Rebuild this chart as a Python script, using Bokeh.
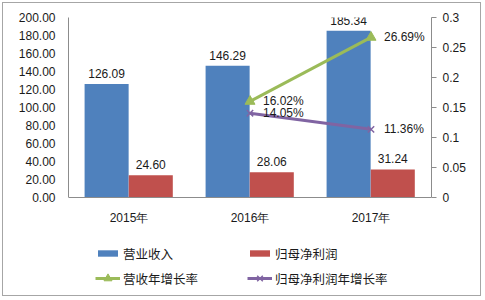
from bokeh.plotting import figure
from bokeh.models import (ColumnDataSource, FactorRange, Range1d, LinearAxis, FixedTicker,
                          NumeralTickFormatter, CustomJSTickFormatter, LabelSet, Legend,
                          LegendItem)
from bokeh.core.properties import value
from bokeh.transform import dodge
from bokeh.embed import file_html
from bokeh.resources import INLINE

# ---- data ----
years = ["2015年", "2016年", "2017年"]
revenue = [126.09, 146.29, 185.34]
net_profit = [24.60, 28.06, 31.24]
growth_years = ["2016年", "2017年"]
revenue_growth = [0.1602, 0.2669]
profit_growth = [0.1405, 0.1136]
left_ticks = [0, 20, 40, 60, 80, 100, 120, 140, 160, 180, 200]
right_ticks = [0, 0.05, 0.1, 0.15, 0.2, 0.25, 0.3]
series_names = ["营业收入", "归母净利润", "营收年增长率", "归母净利润年增长率"]

BLUE = "#4F81BD"
RED = "#C0504D"
GREEN = "#9BBB59"
PURPLE = "#8064A2"
AXIS = "#8c8c8c"
TXT = "#1a1a1a"
NUM_FONT = "Liberation Sans"
CJK_FONT = "Noto Sans CJK SC"

bars = ColumnDataSource(dict(
    years=years, revenue=revenue, net_profit=net_profit,
    rev_txt=[f"{v:.2f}" for v in revenue],
    np_txt=[f"{v:.2f}" for v in net_profit],
))
lines = ColumnDataSource(dict(
    years=growth_years, rg=revenue_growth, pg=profit_growth,
    rg_txt=[f"{v*100:.2f}%" for v in revenue_growth],
    pg_txt=[f"{v*100:.2f}%" for v in profit_growth],
))

# The frame extends down to hold the legend; value axes are bounded to their data span.
# frame: 276 px tall, top 180 px show 0..200 (and 0..0.3 on the right)
p = figure(width=479, height=294, x_range=FactorRange(*years),
           y_range=Range1d(-106.67, 200),
           output_backend="svg", toolbar_location=None,
           min_border_left=65, min_border_right=51, min_border_top=14, min_border_bottom=4)
p.styles = {"border": "1px solid #a6a6a6", "margin": "2px"}
p.extra_y_ranges = {"pct": Range1d(-0.16, 0.3)}
p.outline_line_color = None
p.xgrid.grid_line_color = None
p.ygrid.grid_line_color = None

bw = 0.364
r_rev = p.vbar(x=dodge("years", -0.185, range=p.x_range), top="revenue", width=bw,
               source=bars, fill_color=BLUE, line_color=None)
r_np = p.vbar(x=dodge("years", 0.18, range=p.x_range), top="net_profit", width=bw,
              source=bars, fill_color=RED, line_color=None)

r_gl = p.line(x="years", y="rg", source=lines, y_range_name="pct", line_color=GREEN, line_width=3)
r_gm = p.scatter(x="years", y="rg", source=lines, y_range_name="pct", marker="triangle",
                 size=10, fill_color=GREEN, line_color=GREEN)
r_pl = p.line(x="years", y="pg", source=lines, y_range_name="pct", line_color=PURPLE, line_width=3)
r_pm = p.scatter(x="years", y="pg", source=lines, y_range_name="pct", marker="x",
                 size=9, line_color=PURPLE, line_width=1.5)

# bar labels
for col, txt, dx in [("revenue", "rev_txt", -0.185), ("net_profit", "np_txt", 0.18)]:
    p.add_layout(LabelSet(x=dodge("years", dx, range=p.x_range), y=col, text=txt, source=bars,
                          text_align="center", text_baseline="bottom", y_offset=6,
                          text_font=value(NUM_FONT), text_font_size="12px", text_color=TXT))
for col, txt in [("rg", "rg_txt"), ("pg", "pg_txt")]:
    p.add_layout(LabelSet(x="years", y=col, text=txt, source=lines, y_range_name="pct",
                          text_align="left", text_baseline="middle", x_offset=13, y_offset=0,
                          text_font=value(NUM_FONT), text_font_size="12px", text_color=TXT))

# axes
ya = p.yaxis[0]
ya.ticker = FixedTicker(ticks=left_ticks)
ya.bounds = (0, 200)
ya.formatter = NumeralTickFormatter(format="0.00")
ya.major_tick_out = 0
ya.major_tick_in = 0
ya.minor_tick_out = 0
ya.minor_tick_in = 0
ya.axis_line_color = AXIS
ya.major_label_standoff = 13
ya.major_label_text_font = NUM_FONT
ya.major_label_text_font_size = "12px"
ya.major_label_text_color = TXT

xa = p.xaxis[0]
xa.fixed_location = 0
xa.major_tick_out = 0
xa.major_tick_in = 0
xa.axis_line_color = AXIS
xa.major_label_standoff = 14
xa.major_label_text_font = NUM_FONT
xa.major_label_text_font_size = "12px"
xa.major_label_text_color = TXT

ra = LinearAxis(y_range_name="pct", ticker=FixedTicker(ticks=right_ticks), bounds=(0, 0.3),
                formatter=CustomJSTickFormatter(code="return tick.toString();"))
ra.major_tick_out = 5
ra.major_tick_in = 0
ra.minor_tick_out = 0
ra.minor_tick_in = 0
ra.axis_line_color = AXIS
ra.major_tick_line_color = AXIS
ra.major_label_standoff = 6
ra.major_label_text_font = NUM_FONT
ra.major_label_text_font_size = "12px"
ra.major_label_text_color = TXT
p.add_layout(ra, "right")

# legends (one per item, placed inside the extended frame)
def add_leg(name, renderers, loc, gw, gh):
    lg = Legend(items=[LegendItem(label=name, renderers=renderers)], location=loc,
                orientation="vertical", glyph_width=gw, glyph_height=gh, label_height=20,
                label_standoff=3, padding=0, margin=0, spacing=0,
                border_line_color=None, background_fill_alpha=0,
                label_text_font=CJK_FONT, label_text_font_size="12.5px",
                label_text_color=TXT)
    p.add_layout(lg)

add_leg(series_names[0], [r_rev], (27, 30), 25, 8)
add_leg(series_names[1], [r_np], (179, 30), 25, 8)
add_leg(series_names[2], [r_gl, r_gm], (27, 5), 25, 20)
add_leg(series_names[3], [r_pl, r_pm], (179, 5), 25, 20)

open("out.html", "w").write(file_html(p, INLINE))
